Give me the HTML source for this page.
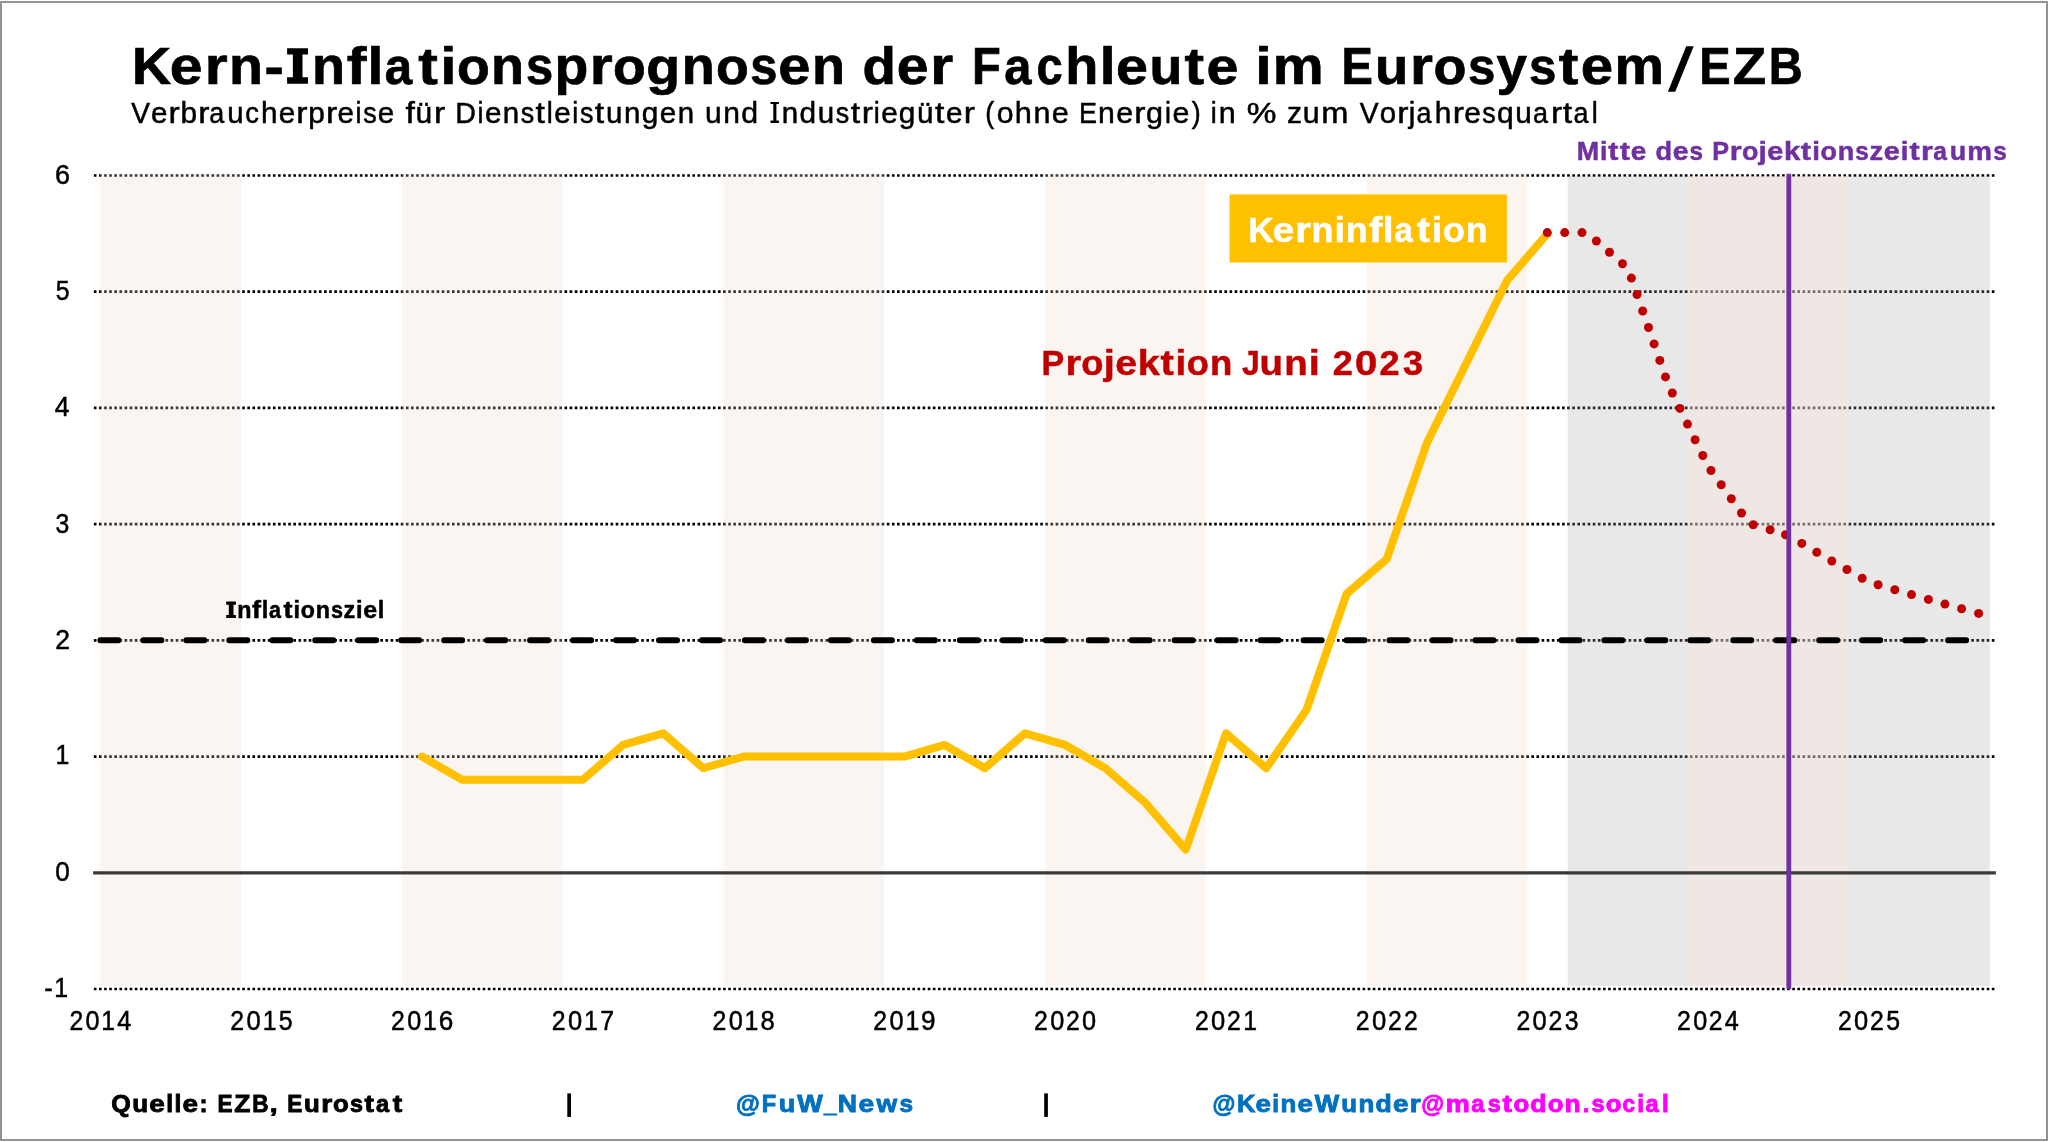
<!DOCTYPE html>
<html><head><meta charset="utf-8"><title>Kern-Inflationsprognosen</title>
<style>
html,body{margin:0;padding:0;background:#fff;width:2048px;height:1142px;overflow:hidden;}
svg{display:block;will-change:transform;}
text{font-family:"Liberation Sans",sans-serif;}
</style></head><body>
<svg width="2048" height="1142" viewBox="0 0 2048 1142">
<rect x="0" y="0" width="2048" height="1142" fill="#fff"/>
<line x1="93.85" y1="175.48" x2="1994.5" y2="175.48" stroke="#000" stroke-width="2.7" stroke-dasharray="2.65 2.4657"/>
<line x1="93.85" y1="291.70" x2="1994.5" y2="291.70" stroke="#000" stroke-width="2.7" stroke-dasharray="2.65 2.4657"/>
<line x1="93.85" y1="407.92" x2="1994.5" y2="407.92" stroke="#000" stroke-width="2.7" stroke-dasharray="2.65 2.4657"/>
<line x1="93.85" y1="524.14" x2="1994.5" y2="524.14" stroke="#000" stroke-width="2.7" stroke-dasharray="2.65 2.4657"/>
<line x1="93.85" y1="640.36" x2="1994.5" y2="640.36" stroke="#000" stroke-width="2.7" stroke-dasharray="2.65 2.4657"/>
<line x1="93.85" y1="756.58" x2="1994.5" y2="756.58" stroke="#000" stroke-width="2.7" stroke-dasharray="2.65 2.4657"/>
<line x1="93.85" y1="989.02" x2="1994.5" y2="989.02" stroke="#000" stroke-width="2.7" stroke-dasharray="2.65 2.4657"/>
<rect x="1567.70" y="176.0" width="120.60" height="810.20" fill="rgb(165,165,165)" fill-opacity="0.255"/>
<rect x="1849.10" y="176.0" width="140.70" height="810.20" fill="rgb(165,165,165)" fill-opacity="0.255"/>
<rect x="1688.30" y="176.0" width="160.80" height="810.20" fill="rgb(225,209,204)" fill-opacity="0.525"/>
<rect x="100.40" y="173.5" width="140.70" height="812.80" fill="rgb(235,216,200)" fill-opacity="0.255"/>
<rect x="401.90" y="173.5" width="160.80" height="812.80" fill="rgb(235,216,200)" fill-opacity="0.255"/>
<rect x="723.50" y="173.5" width="160.80" height="812.80" fill="rgb(235,216,200)" fill-opacity="0.255"/>
<rect x="1045.10" y="173.5" width="160.80" height="812.80" fill="rgb(235,216,200)" fill-opacity="0.255"/>
<rect x="1366.70" y="173.5" width="160.80" height="812.80" fill="rgb(235,216,200)" fill-opacity="0.255"/>
<line x1="93.1" y1="872.80" x2="1995.9" y2="872.80" stroke="#3a3a3a" stroke-width="3.3"/>
<line x1="100.40" y1="640.36" x2="1989.80" y2="640.36" stroke="#000" stroke-width="6" stroke-linecap="round" stroke-dasharray="18 24.97"/>
<polyline points="422.00,756.58 462.20,779.82 502.40,779.82 542.60,779.82 582.80,779.82 623.00,744.96 663.20,733.34 703.40,768.20 743.60,756.58 783.80,756.58 824.00,756.58 864.20,756.58 904.40,756.58 944.60,744.96 984.80,768.20 1025.00,733.34 1065.20,744.96 1105.40,768.20 1145.60,803.07 1185.80,849.56 1226.00,733.34 1266.20,768.20 1306.40,710.09 1346.60,593.87 1386.80,559.01 1427.00,442.79 1467.20,361.43 1507.40,280.08 1547.60,233.59" fill="none" stroke="#FFC000" stroke-width="8" stroke-linejoin="round" stroke-linecap="round"/>
<g fill="#C00000"><circle cx="1547.3" cy="232.6" r="4.5"/><circle cx="1564.7" cy="232.6" r="4.5"/><circle cx="1582.0" cy="232.6" r="4.5"/><circle cx="1596.4" cy="241.0" r="4.5"/><circle cx="1609.5" cy="252.3" r="4.5"/><circle cx="1622.5" cy="263.8" r="4.5"/><circle cx="1631.4" cy="278.1" r="4.5"/><circle cx="1637.0" cy="294.6" r="4.5"/><circle cx="1642.7" cy="311.0" r="4.5"/><circle cx="1648.5" cy="327.5" r="4.5"/><circle cx="1654.1" cy="343.9" r="4.5"/><circle cx="1659.8" cy="360.4" r="4.5"/><circle cx="1665.5" cy="376.9" r="4.5"/><circle cx="1672.3" cy="393.0" r="4.5"/><circle cx="1679.9" cy="408.4" r="4.5"/><circle cx="1687.5" cy="424.1" r="4.5"/><circle cx="1695.1" cy="439.7" r="4.5"/><circle cx="1702.8" cy="455.5" r="4.5"/><circle cx="1711.0" cy="470.5" r="4.5"/><circle cx="1721.2" cy="484.7" r="4.5"/><circle cx="1731.3" cy="498.8" r="4.5"/><circle cx="1741.5" cy="513.0" r="4.5"/><circle cx="1753.2" cy="524.7" r="4.5"/><circle cx="1770.1" cy="529.8" r="4.5"/><circle cx="1785.5" cy="534.8" r="4.5"/><circle cx="1801.8" cy="543.4" r="4.5"/><circle cx="1816.8" cy="552.2" r="4.5"/><circle cx="1831.8" cy="561.0" r="4.5"/><circle cx="1847.0" cy="569.5" r="4.5"/><circle cx="1862.2" cy="578.2" r="4.5"/><circle cx="1878.1" cy="584.8" r="4.5"/><circle cx="1894.8" cy="589.7" r="4.5"/><circle cx="1911.5" cy="594.6" r="4.5"/><circle cx="1928.4" cy="599.4" r="4.5"/><circle cx="1944.9" cy="604.1" r="4.5"/><circle cx="1961.6" cy="608.8" r="4.5"/><circle cx="1978.6" cy="613.4" r="4.5"/></g>
<line x1="1788.80" y1="173.8" x2="1788.80" y2="989.02" stroke="#7030A0" stroke-width="4.8"/>
<rect x="1229.5" y="194.4" width="277.4" height="68.1" fill="#FFC000"/>
<rect x="567.3" y="1093.4" width="3.7" height="23.5" fill="#000"/>
<rect x="1044.2" y="1093.4" width="3.7" height="23.5" fill="#000"/>
<g font-size="51.2" font-weight="bold" fill="#000" stroke="#000" stroke-width="0.7"><text transform="matrix(1.0583 0 0 1 132.03 83.8)">K</text><text transform="matrix(1.1500 0 0 1 169.81 83.8)">e</text><text transform="matrix(1.1500 0 0 1 204.85 83.8)">r</text><text transform="matrix(1.0846 0 0 1 229.00 83.8)">n</text><text transform="matrix(1.1267 0 0 1 264.55 83.8)">-</text></g>
<g font-size="51.2" font-weight="bold" fill="#000" stroke="#000" stroke-width="0.7"><text transform="matrix(1.0548 0 0 1 312.09 83.8)">n</text><text transform="matrix(1.1500 0 0 1 346.79 83.8)">f</text><text transform="matrix(1.1124 0 0 1 367.54 83.8)">l</text><text transform="matrix(0.9614 0 0 1 384.77 83.8)">a</text><text transform="matrix(1.1500 0 0 1 418.24 83.8)">t</text><text transform="matrix(1.1124 0 0 1 440.39 83.8)">i</text><text transform="matrix(1.0477 0 0 1 456.97 83.8)">o</text><text transform="matrix(1.0548 0 0 1 490.96 83.8)">n</text><text transform="matrix(0.9548 0 0 1 525.91 83.8)">s</text><text transform="matrix(1.0809 0 0 1 554.54 83.8)">p</text><text transform="matrix(1.1500 0 0 1 589.65 83.8)">r</text><text transform="matrix(1.0477 0 0 1 612.98 83.8)">o</text><text transform="matrix(1.0830 0 0 1 646.36 83.8)">g</text><text transform="matrix(1.0548 0 0 1 681.85 83.8)">n</text><text transform="matrix(1.0477 0 0 1 715.99 83.8)">o</text><text transform="matrix(0.9548 0 0 1 750.26 83.8)">s</text><text transform="matrix(1.1279 0 0 1 778.28 83.8)">e</text><text transform="matrix(1.0548 0 0 1 812.01 83.8)">n</text></g>
<g font-size="51.2" font-weight="bold" fill="#000" stroke="#000" stroke-width="0.7"><text transform="matrix(1.0674 0 0 1 862.51 83.8)">d</text><text transform="matrix(1.1138 0 0 1 896.87 83.8)">e</text><text transform="matrix(1.1500 0 0 1 930.17 83.8)">r</text></g>
<g font-size="51.2" font-weight="bold" fill="#000" stroke="#000" stroke-width="0.7"><text transform="matrix(0.9200 0 0 1 971.88 83.8)">F</text><text transform="matrix(0.9555 0 0 1 1004.32 83.8)">a</text><text transform="matrix(0.9200 0 0 1 1036.44 83.8)">c</text><text transform="matrix(1.0568 0 0 1 1065.33 83.8)">h</text><text transform="matrix(1.1051 0 0 1 1099.63 83.8)">l</text><text transform="matrix(1.1209 0 0 1 1115.95 83.8)">e</text><text transform="matrix(1.0483 0 0 1 1149.40 83.8)">u</text><text transform="matrix(1.1500 0 0 1 1184.59 83.8)">t</text><text transform="matrix(1.1209 0 0 1 1206.39 83.8)">e</text></g>
<g font-size="51.2" font-weight="bold" fill="#000" stroke="#000" stroke-width="0.7"><text transform="matrix(1.1500 0 0 1 1255.25 83.8)">i</text><text transform="matrix(1.1185 0 0 1 1272.78 83.8)">m</text></g>
<g font-size="51.2" font-weight="bold" fill="#000" stroke="#000" stroke-width="0.7"><text transform="matrix(0.9200 0 0 1 1341.43 83.8)">E</text><text transform="matrix(1.0616 0 0 1 1374.89 83.8)">u</text><text transform="matrix(1.1500 0 0 1 1410.10 83.8)">r</text><text transform="matrix(1.0545 0 0 1 1433.50 83.8)">o</text><text transform="matrix(0.9610 0 0 1 1467.98 83.8)">s</text><text transform="matrix(1.0708 0 0 1 1496.52 83.8)">y</text><text transform="matrix(0.9610 0 0 1 1529.11 83.8)">s</text><text transform="matrix(1.1500 0 0 1 1558.80 83.8)">t</text><text transform="matrix(1.1352 0 0 1 1580.74 83.8)">e</text><text transform="matrix(1.0886 0 0 1 1614.55 83.8)">m</text></g>
<g font-size="51.2" font-weight="bold" fill="#000" stroke="#000" stroke-width="0.7"><text transform="matrix(0.9200 0 0 1 1699.34 83.8)">E</text><text transform="matrix(1.0682 0 0 1 1732.77 83.8)">Z</text><text transform="matrix(0.9200 0 0 1 1768.69 83.8)">B</text></g>
<g font-size="29.3" font-weight="normal" fill="#000" stroke="#000" stroke-width="0.5"><text transform="matrix(0.9574 0 0 1 131.28 122.75)">V</text><text transform="matrix(1.0102 0 0 1 150.91 122.75)">e</text><text transform="matrix(1.1500 0 0 1 168.49 122.75)">r</text><text transform="matrix(1.0162 0 0 1 180.40 122.75)">b</text><text transform="matrix(1.1500 0 0 1 198.18 122.75)">r</text><text transform="matrix(0.9200 0 0 1 209.37 122.75)">a</text><text transform="matrix(1.0045 0 0 1 227.33 122.75)">u</text><text transform="matrix(0.9326 0 0 1 245.22 122.75)">c</text><text transform="matrix(1.0115 0 0 1 260.95 122.75)">h</text><text transform="matrix(1.0102 0 0 1 278.73 122.75)">e</text><text transform="matrix(1.1500 0 0 1 296.31 122.75)">r</text><text transform="matrix(1.0162 0 0 1 308.22 122.75)">p</text><text transform="matrix(1.1500 0 0 1 326.00 122.75)">r</text><text transform="matrix(1.0102 0 0 1 337.56 122.75)">e</text><text transform="matrix(0.9200 0 0 1 355.43 122.75)">i</text><text transform="matrix(0.9200 0 0 1 363.20 122.75)">s</text><text transform="matrix(1.0102 0 0 1 377.70 122.75)">e</text></g>
<g font-size="29.3" font-weight="normal" fill="#000" stroke="#000" stroke-width="0.5"><text transform="matrix(1.1500 0 0 1 405.47 122.75)">f</text><text transform="matrix(1.0203 0 0 1 415.55 122.75)">ü</text><text transform="matrix(1.1500 0 0 1 433.93 122.75)">r</text></g>
<g font-size="29.3" font-weight="normal" fill="#000" stroke="#000" stroke-width="0.5"><text transform="matrix(0.9755 0 0 1 455.31 122.75)">D</text><text transform="matrix(0.9200 0 0 1 477.48 122.75)">i</text><text transform="matrix(1.0122 0 0 1 484.97 122.75)">e</text><text transform="matrix(1.0064 0 0 1 502.79 122.75)">n</text><text transform="matrix(0.9200 0 0 1 520.80 122.75)">s</text><text transform="matrix(1.1500 0 0 1 535.56 122.75)">t</text><text transform="matrix(0.9200 0 0 1 546.87 122.75)">l</text><text transform="matrix(1.0122 0 0 1 554.37 122.75)">e</text><text transform="matrix(0.9200 0 0 1 572.28 122.75)">i</text><text transform="matrix(0.9200 0 0 1 580.07 122.75)">s</text><text transform="matrix(1.1500 0 0 1 594.84 122.75)">t</text><text transform="matrix(1.0064 0 0 1 605.93 122.75)">u</text><text transform="matrix(1.0064 0 0 1 624.08 122.75)">n</text><text transform="matrix(1.0171 0 0 1 641.80 122.75)">g</text><text transform="matrix(1.0122 0 0 1 659.85 122.75)">e</text><text transform="matrix(1.0064 0 0 1 677.66 122.75)">n</text></g>
<g font-size="29.3" font-weight="normal" fill="#000" stroke="#000" stroke-width="0.5"><text transform="matrix(1.0233 0 0 1 704.90 122.75)">u</text><text transform="matrix(1.0233 0 0 1 723.35 122.75)">n</text><text transform="matrix(1.0341 0 0 1 741.35 122.75)">d</text></g>
<g font-size="29.3" font-weight="normal" fill="#000" stroke="#000" stroke-width="0.5"><text transform="matrix(1.0080 0 0 1 781.69 122.75)">n</text><text transform="matrix(1.0187 0 0 1 799.43 122.75)">d</text><text transform="matrix(1.0080 0 0 1 817.70 122.75)">u</text><text transform="matrix(0.9200 0 0 1 835.87 122.75)">s</text><text transform="matrix(1.1500 0 0 1 850.66 122.75)">t</text><text transform="matrix(1.1500 0 0 1 861.71 122.75)">r</text><text transform="matrix(0.9200 0 0 1 873.70 122.75)">i</text><text transform="matrix(1.0137 0 0 1 881.20 122.75)">e</text><text transform="matrix(1.0187 0 0 1 898.73 122.75)">g</text><text transform="matrix(1.0080 0 0 1 916.91 122.75)">ü</text><text transform="matrix(1.1500 0 0 1 935.11 122.75)">t</text><text transform="matrix(1.0137 0 0 1 946.02 122.75)">e</text><text transform="matrix(1.1500 0 0 1 963.69 122.75)">r</text></g>
<g font-size="29.3" font-weight="normal" fill="#000" stroke="#000" stroke-width="0.5"><text transform="matrix(0.9200 0 0 1 985.14 122.75)">(</text><text transform="matrix(1.0290 0 0 1 996.63 122.75)">o</text><text transform="matrix(1.0473 0 0 1 1014.78 122.75)">h</text><text transform="matrix(1.0401 0 0 1 1033.49 122.75)">n</text><text transform="matrix(1.0458 0 0 1 1051.77 122.75)">e</text></g>
<g font-size="29.3" font-weight="normal" fill="#000" stroke="#000" stroke-width="0.5"><text transform="matrix(0.9200 0 0 1 1078.92 122.75)">E</text><text transform="matrix(1.0311 0 0 1 1098.02 122.75)">n</text><text transform="matrix(1.0368 0 0 1 1116.15 122.75)">e</text><text transform="matrix(1.1500 0 0 1 1134.35 122.75)">r</text><text transform="matrix(1.0419 0 0 1 1146.04 122.75)">g</text><text transform="matrix(0.9200 0 0 1 1165.01 122.75)">i</text><text transform="matrix(1.0368 0 0 1 1172.60 122.75)">e</text><text transform="matrix(0.9200 0 0 1 1191.81 122.75)">)</text></g>
<g font-size="29.3" font-weight="normal" fill="#000" stroke="#000" stroke-width="0.5"><text transform="matrix(0.9200 0 0 1 1210.83 122.75)">i</text><text transform="matrix(1.0400 0 0 1 1218.78 122.75)">n</text></g>
<g font-size="29.3" font-weight="normal" fill="#000" stroke="#000" stroke-width="0.5"><text transform="matrix(1.1392 0 0 1 1246.66 122.75)">%</text></g>
<g font-size="29.3" font-weight="normal" fill="#000" stroke="#000" stroke-width="0.5"><text transform="matrix(1.0272 0 0 1 1286.93 122.75)">z</text><text transform="matrix(1.0354 0 0 1 1302.75 122.75)">u</text><text transform="matrix(1.1122 0 0 1 1321.25 122.75)">m</text></g>
<g font-size="29.3" font-weight="normal" fill="#000" stroke="#000" stroke-width="0.5"><text transform="matrix(0.9658 0 0 1 1359.83 122.75)">V</text><text transform="matrix(1.0028 0 0 1 1379.66 122.75)">o</text><text transform="matrix(1.1500 0 0 1 1397.32 122.75)">r</text><text transform="matrix(1.0072 0 0 1 1408.81 122.75)">j</text><text transform="matrix(0.9200 0 0 1 1416.58 122.75)">a</text><text transform="matrix(1.0205 0 0 1 1434.63 122.75)">h</text><text transform="matrix(1.1500 0 0 1 1452.74 122.75)">r</text><text transform="matrix(1.0192 0 0 1 1464.34 122.75)">e</text><text transform="matrix(0.9200 0 0 1 1482.30 122.75)">s</text><text transform="matrix(1.0231 0 0 1 1496.88 122.75)">q</text><text transform="matrix(1.0135 0 0 1 1515.24 122.75)">u</text><text transform="matrix(0.9200 0 0 1 1532.90 122.75)">a</text><text transform="matrix(1.1500 0 0 1 1550.92 122.75)">r</text><text transform="matrix(1.1500 0 0 1 1562.80 122.75)">t</text><text transform="matrix(0.9200 0 0 1 1573.45 122.75)">a</text><text transform="matrix(0.9200 0 0 1 1591.71 122.75)">l</text></g>
<g font-size="26.5" font-weight="bold" fill="#7030A0" stroke="#7030A0" stroke-width="0.5"><text transform="matrix(1.0147 0 0 1 1576.65 159.9)">M</text><text transform="matrix(1.0067 0 0 1 1600.08 159.9)">i</text><text transform="matrix(1.1500 0 0 1 1608.35 159.9)">t</text><text transform="matrix(1.1500 0 0 1 1619.73 159.9)">t</text><text transform="matrix(1.0524 0 0 1 1630.79 159.9)">e</text></g>
<g font-size="26.5" font-weight="bold" fill="#7030A0" stroke="#7030A0" stroke-width="0.5"><text transform="matrix(1.0260 0 0 1 1655.53 159.9)">d</text><text transform="matrix(1.0706 0 0 1 1672.81 159.9)">e</text><text transform="matrix(0.9200 0 0 1 1689.59 159.9)">s</text></g>
<g font-size="26.5" font-weight="bold" fill="#7030A0" stroke="#7030A0" stroke-width="0.5"><text transform="matrix(0.9518 0 0 1 1712.26 159.9)">P</text><text transform="matrix(1.1500 0 0 1 1729.85 159.9)">r</text><text transform="matrix(1.0128 0 0 1 1741.88 159.9)">o</text><text transform="matrix(1.1311 0 0 1 1758.44 159.9)">j</text><text transform="matrix(1.0900 0 0 1 1767.16 159.9)">e</text><text transform="matrix(1.1053 0 0 1 1783.95 159.9)">k</text><text transform="matrix(1.1500 0 0 1 1800.74 159.9)">t</text><text transform="matrix(1.0461 0 0 1 1812.20 159.9)">i</text><text transform="matrix(1.0128 0 0 1 1820.51 159.9)">o</text><text transform="matrix(1.0186 0 0 1 1837.70 159.9)">n</text><text transform="matrix(0.9209 0 0 1 1855.36 159.9)">s</text><text transform="matrix(1.0279 0 0 1 1869.61 159.9)">z</text><text transform="matrix(1.0900 0 0 1 1883.85 159.9)">e</text><text transform="matrix(1.0461 0 0 1 1900.75 159.9)">i</text><text transform="matrix(1.1500 0 0 1 1909.50 159.9)">t</text><text transform="matrix(1.1500 0 0 1 1920.94 159.9)">r</text><text transform="matrix(0.9285 0 0 1 1933.31 159.9)">a</text><text transform="matrix(1.0186 0 0 1 1949.83 159.9)">u</text><text transform="matrix(1.0490 0 0 1 1967.32 159.9)">m</text><text transform="matrix(0.9209 0 0 1 1993.18 159.9)">s</text></g>
<g font-size="35.0" font-weight="bold" fill="#fff" stroke="#fff" stroke-width="0.5"><text transform="matrix(1.0077 0 0 1 1248.19 241.7)">K</text><text transform="matrix(1.1038 0 0 1 1272.74 241.7)">e</text><text transform="matrix(1.1500 0 0 1 1295.25 241.7)">r</text><text transform="matrix(1.0321 0 0 1 1311.44 241.7)">n</text><text transform="matrix(1.0840 0 0 1 1334.41 241.7)">i</text><text transform="matrix(1.0321 0 0 1 1345.86 241.7)">n</text><text transform="matrix(1.1500 0 0 1 1368.96 241.7)">f</text><text transform="matrix(1.0840 0 0 1 1383.03 241.7)">l</text><text transform="matrix(0.9408 0 0 1 1394.56 241.7)">a</text><text transform="matrix(1.1500 0 0 1 1416.84 241.7)">t</text><text transform="matrix(1.0840 0 0 1 1431.85 241.7)">i</text><text transform="matrix(1.0254 0 0 1 1442.94 241.7)">o</text><text transform="matrix(1.0321 0 0 1 1465.72 241.7)">n</text></g>
<g font-size="34.8" font-weight="bold" fill="#C00000" stroke="#C00000" stroke-width="0.5"><text transform="matrix(0.9812 0 0 1 1041.57 375.1)">P</text><text transform="matrix(1.1500 0 0 1 1065.46 375.1)">r</text><text transform="matrix(1.0441 0 0 1 1081.32 375.1)">o</text><text transform="matrix(1.1500 0 0 1 1103.65 375.1)">j</text><text transform="matrix(1.1239 0 0 1 1115.23 375.1)">e</text><text transform="matrix(1.1394 0 0 1 1137.74 375.1)">k</text><text transform="matrix(1.1500 0 0 1 1160.53 375.1)">t</text><text transform="matrix(1.1046 0 0 1 1175.59 375.1)">i</text><text transform="matrix(1.0441 0 0 1 1186.82 375.1)">o</text><text transform="matrix(1.0510 0 0 1 1209.88 375.1)">n</text></g>
<g font-size="34.8" font-weight="bold" fill="#C00000" stroke="#C00000" stroke-width="0.5"><text transform="matrix(0.9200 0 0 1 1241.96 375.1)">J</text><text transform="matrix(1.1017 0 0 1 1259.58 375.1)">u</text><text transform="matrix(1.1017 0 0 1 1284.26 375.1)">n</text><text transform="matrix(1.1500 0 0 1 1308.64 375.1)">i</text></g>
<g font-size="34.8" font-weight="bold" fill="#C00000" stroke="#C00000" stroke-width="0.5"><text transform="matrix(1.0340 0 0 1 1332.70 375.1)">2</text><text transform="matrix(1.1500 0 0 1 1355.05 375.1)">0</text><text transform="matrix(1.0340 0 0 1 1379.52 375.1)">2</text><text transform="matrix(1.0395 0 0 1 1402.94 375.1)">3</text></g>
<g font-size="23.5" font-weight="bold" fill="#000" stroke="#000" stroke-width="0.5"><text transform="matrix(0.9920 0 0 1 237.21 617.8)">n</text><text transform="matrix(1.1491 0 0 1 252.12 617.8)">f</text><text transform="matrix(1.0042 0 0 1 261.63 617.8)">l</text><text transform="matrix(0.9200 0 0 1 269.00 617.8)">a</text><text transform="matrix(1.1500 0 0 1 283.50 617.8)">t</text><text transform="matrix(1.0042 0 0 1 293.61 617.8)">i</text><text transform="matrix(0.9868 0 0 1 300.81 617.8)">o</text><text transform="matrix(0.9920 0 0 1 315.74 617.8)">n</text><text transform="matrix(0.9200 0 0 1 330.92 617.8)">s</text><text transform="matrix(1.0002 0 0 1 343.46 617.8)">z</text><text transform="matrix(1.0042 0 0 1 356.03 617.8)">i</text><text transform="matrix(1.0619 0 0 1 363.16 617.8)">e</text><text transform="matrix(1.0042 0 0 1 377.86 617.8)">l</text></g>
<g font-size="24.5" font-weight="bold" fill="#000" stroke="#000" stroke-width="0.9"><text transform="matrix(1.0250 0 0 1 111.22 1112)">Q</text><text transform="matrix(1.0608 0 0 1 132.13 1112)">u</text><text transform="matrix(1.1375 0 0 1 149.21 1112)">e</text><text transform="matrix(1.0044 0 0 1 166.17 1112)">l</text><text transform="matrix(1.0044 0 0 1 174.56 1112)">l</text><text transform="matrix(1.1375 0 0 1 182.57 1112)">e</text><text transform="matrix(0.9904 0 0 1 199.60 1112)">:</text></g>
<g font-size="24.5" font-weight="bold" fill="#000" stroke="#000" stroke-width="0.9"><text transform="matrix(0.9200 0 0 1 217.58 1112)">E</text><text transform="matrix(1.0772 0 0 1 234.26 1112)">Z</text><text transform="matrix(0.9200 0 0 1 252.33 1112)">B</text><text transform="matrix(1.1500 0 0 1 269.84 1112)">,</text></g>
<g font-size="24.5" font-weight="bold" fill="#000" stroke="#000" stroke-width="0.9"><text transform="matrix(0.9200 0 0 1 287.26 1112)">E</text><text transform="matrix(1.0533 0 0 1 303.92 1112)">u</text><text transform="matrix(1.1500 0 0 1 321.25 1112)">r</text><text transform="matrix(1.0503 0 0 1 332.95 1112)">o</text><text transform="matrix(0.9488 0 0 1 350.05 1112)">s</text><text transform="matrix(1.1500 0 0 1 364.62 1112)">t</text><text transform="matrix(0.9603 0 0 1 376.04 1112)">a</text><text transform="matrix(1.1500 0 0 1 392.64 1112)">t</text></g>
<g font-size="24.5" font-weight="bold" fill="#0070C0" stroke="#0070C0" stroke-width="0.9"><text transform="matrix(0.9967 0 0 1 735.95 1112)">@</text><text transform="matrix(0.9629 0 0 1 761.79 1112)">F</text><text transform="matrix(1.1027 0 0 1 778.68 1112)">u</text><text transform="matrix(1.1063 0 0 1 797.16 1112)">W</text><text transform="matrix(0.9200 0 0 1 824.04 1112)">_</text><text transform="matrix(1.0881 0 0 1 837.63 1112)">N</text><text transform="matrix(1.1500 0 0 1 858.50 1112)">e</text><text transform="matrix(1.0827 0 0 1 876.49 1112)">w</text><text transform="matrix(0.9935 0 0 1 899.41 1112)">s</text></g>
<g font-size="24.5" font-weight="bold" fill="#0070C0" stroke="#0070C0" stroke-width="0.9"><text transform="matrix(0.9545 0 0 1 1212.51 1112)">@</text><text transform="matrix(1.0400 0 0 1 1237.11 1112)">K</text><text transform="matrix(1.1311 0 0 1 1255.40 1112)">e</text><text transform="matrix(0.9977 0 0 1 1272.28 1112)">i</text><text transform="matrix(1.0547 0 0 1 1280.62 1112)">n</text><text transform="matrix(1.1311 0 0 1 1297.57 1112)">e</text><text transform="matrix(1.0598 0 0 1 1314.81 1112)">W</text><text transform="matrix(1.0547 0 0 1 1341.25 1112)">u</text><text transform="matrix(1.0547 0 0 1 1358.61 1112)">n</text><text transform="matrix(1.0839 0 0 1 1375.60 1112)">d</text><text transform="matrix(1.1311 0 0 1 1392.98 1112)">e</text><text transform="matrix(1.1500 0 0 1 1409.86 1112)">r</text></g>
<g font-size="24.5" font-weight="bold" fill="#FF00FF" stroke="#FF00FF" stroke-width="0.9"><text transform="matrix(0.9568 0 0 1 1421.31 1112)">@</text><text transform="matrix(1.1025 0 0 1 1445.68 1112)">m</text><text transform="matrix(0.9640 0 0 1 1471.20 1112)">a</text><text transform="matrix(0.9524 0 0 1 1487.75 1112)">s</text><text transform="matrix(1.1500 0 0 1 1502.39 1112)">t</text><text transform="matrix(1.0543 0 0 1 1513.52 1112)">o</text><text transform="matrix(1.0866 0 0 1 1530.24 1112)">d</text><text transform="matrix(1.0543 0 0 1 1547.74 1112)">o</text><text transform="matrix(1.0574 0 0 1 1564.80 1112)">n</text><text transform="matrix(0.9798 0 0 1 1582.68 1112)">.</text><text transform="matrix(0.9524 0 0 1 1591.53 1112)">s</text><text transform="matrix(1.0543 0 0 1 1605.64 1112)">o</text><text transform="matrix(0.9200 0 0 1 1622.47 1112)">c</text><text transform="matrix(1.0006 0 0 1 1637.16 1112)">i</text><text transform="matrix(0.9640 0 0 1 1645.54 1112)">a</text><text transform="matrix(1.0006 0 0 1 1661.97 1112)">l</text></g>
<g font-size="27" font-weight="normal" fill="#000" stroke="#000" stroke-width="0.5"><text transform="matrix(1.0009 0 0 1 54.98 183.7)">6</text></g>
<g font-size="27" font-weight="normal" fill="#000" stroke="#000" stroke-width="0.5"><text transform="matrix(0.9200 0 0 1 55.87 299.8)">5</text></g>
<g font-size="27" font-weight="normal" fill="#000" stroke="#000" stroke-width="0.5"><text transform="matrix(0.9849 0 0 1 54.84 415.5)">4</text></g>
<g font-size="27" font-weight="normal" fill="#000" stroke="#000" stroke-width="0.5"><text transform="matrix(0.9200 0 0 1 55.57 532.6)">3</text></g>
<g font-size="27" font-weight="normal" fill="#000" stroke="#000" stroke-width="0.5"><text transform="matrix(0.9837 0 0 1 55.21 648.9)">2</text></g>
<g font-size="27" font-weight="normal" fill="#000" stroke="#000" stroke-width="0.5"><text transform="matrix(0.9200 0 0 1 55.60 764.4)">1</text></g>
<g font-size="27" font-weight="normal" fill="#000" stroke="#000" stroke-width="0.5"><text transform="matrix(0.9685 0 0 1 55.13 881.4)">0</text></g>
<g font-size="27" font-weight="normal" fill="#000" stroke="#000" stroke-width="0.5"><text transform="matrix(0.9457 0 0 1 44.22 996.8)">-</text><text transform="matrix(0.9200 0 0 1 54.20 996.8)">1</text></g>
<g font-size="27" font-weight="normal" fill="#000" stroke="#000" stroke-width="0.5"><text transform="matrix(0.9200 0 0 1 69.50 1029.8)">2</text><text transform="matrix(0.9327 0 0 1 85.56 1029.8)">0</text><text transform="matrix(0.9200 0 0 1 101.37 1029.8)">1</text><text transform="matrix(0.9348 0 0 1 117.20 1029.8)">4</text></g>
<g font-size="27" font-weight="normal" fill="#000" stroke="#000" stroke-width="0.5"><text transform="matrix(0.9200 0 0 1 230.34 1029.8)">2</text><text transform="matrix(0.9454 0 0 1 246.52 1029.8)">0</text><text transform="matrix(0.9200 0 0 1 262.63 1029.8)">1</text><text transform="matrix(0.9200 0 0 1 278.68 1029.8)">5</text></g>
<g font-size="27" font-weight="normal" fill="#000" stroke="#000" stroke-width="0.5"><text transform="matrix(0.9200 0 0 1 391.04 1029.8)">2</text><text transform="matrix(0.9354 0 0 1 407.13 1029.8)">0</text><text transform="matrix(0.9200 0 0 1 423.00 1029.8)">1</text><text transform="matrix(0.9681 0 0 1 438.63 1029.8)">6</text></g>
<g font-size="27" font-weight="normal" fill="#000" stroke="#000" stroke-width="0.5"><text transform="matrix(0.9200 0 0 1 551.85 1029.8)">2</text><text transform="matrix(0.9446 0 0 1 568.02 1029.8)">0</text><text transform="matrix(0.9200 0 0 1 584.12 1029.8)">1</text><text transform="matrix(0.9211 0 0 1 600.20 1029.8)">7</text></g>
<g font-size="27" font-weight="normal" fill="#000" stroke="#000" stroke-width="0.5"><text transform="matrix(0.9200 0 0 1 712.57 1029.8)">2</text><text transform="matrix(0.9376 0 0 1 728.68 1029.8)">0</text><text transform="matrix(0.9200 0 0 1 744.61 1029.8)">1</text><text transform="matrix(0.9474 0 0 1 760.42 1029.8)">8</text></g>
<g font-size="27" font-weight="normal" fill="#000" stroke="#000" stroke-width="0.5"><text transform="matrix(0.9200 0 0 1 873.34 1029.8)">2</text><text transform="matrix(0.9384 0 0 1 889.45 1029.8)">0</text><text transform="matrix(0.9200 0 0 1 905.40 1029.8)">1</text><text transform="matrix(0.9692 0 0 1 920.99 1029.8)">9</text></g>
<g font-size="27" font-weight="normal" fill="#000" stroke="#000" stroke-width="0.5"><text transform="matrix(0.9200 0 0 1 1034.09 1029.8)">2</text><text transform="matrix(0.9368 0 0 1 1050.19 1029.8)">0</text><text transform="matrix(0.9200 0 0 1 1065.88 1029.8)">2</text><text transform="matrix(0.9368 0 0 1 1081.98 1029.8)">0</text></g>
<g font-size="27" font-weight="normal" fill="#000" stroke="#000" stroke-width="0.5"><text transform="matrix(0.9200 0 0 1 1194.91 1029.8)">2</text><text transform="matrix(0.9474 0 0 1 1211.11 1029.8)">0</text><text transform="matrix(0.9200 0 0 1 1227.05 1029.8)">2</text><text transform="matrix(0.9200 0 0 1 1243.34 1029.8)">1</text></g>
<g font-size="27" font-weight="normal" fill="#000" stroke="#000" stroke-width="0.5"><text transform="matrix(0.9200 0 0 1 1355.69 1029.8)">2</text><text transform="matrix(0.9507 0 0 1 1371.91 1029.8)">0</text><text transform="matrix(0.9200 0 0 1 1387.93 1029.8)">2</text><text transform="matrix(0.9200 0 0 1 1404.06 1029.8)">2</text></g>
<g font-size="27" font-weight="normal" fill="#000" stroke="#000" stroke-width="0.5"><text transform="matrix(0.9200 0 0 1 1516.40 1029.8)">2</text><text transform="matrix(0.9424 0 0 1 1532.55 1029.8)">0</text><text transform="matrix(0.9200 0 0 1 1548.38 1029.8)">2</text><text transform="matrix(0.9200 0 0 1 1564.72 1029.8)">3</text></g>
<g font-size="27" font-weight="normal" fill="#000" stroke="#000" stroke-width="0.5"><text transform="matrix(0.9200 0 0 1 1677.10 1029.8)">2</text><text transform="matrix(0.9327 0 0 1 1693.16 1029.8)">0</text><text transform="matrix(0.9200 0 0 1 1708.76 1029.8)">2</text><text transform="matrix(0.9348 0 0 1 1724.80 1029.8)">4</text></g>
<g font-size="27" font-weight="normal" fill="#000" stroke="#000" stroke-width="0.5"><text transform="matrix(0.9200 0 0 1 1837.94 1029.8)">2</text><text transform="matrix(0.9454 0 0 1 1854.12 1029.8)">0</text><text transform="matrix(0.9200 0 0 1 1870.01 1029.8)">2</text><text transform="matrix(0.9200 0 0 1 1886.28 1029.8)">5</text></g>
<polygon points="1686.2,46.3 1693.7,46.3 1675.2,91.8 1667.9,91.8" fill="#000"/>
<polygon points="287.1,48.2 308.0,48.2 308.0,54.45 302.5,54.45 302.5,77.3 308.0,77.3 308.0,83.8 287.1,83.8 287.1,77.3 292.9,77.3 292.9,54.45 287.1,54.45" fill="#000"/>
<polygon points="770.5,102.0 778.9,102.0 778.9,104.1 776.4,104.1 776.4,120.6 778.9,120.6 778.9,122.9 770.5,122.9 770.5,120.6 773.3,120.6 773.3,104.1 770.5,104.1" fill="#000"/>
<polygon points="226.2,601.4 235.9,601.4 235.9,604.85 233.5,604.85 233.5,615.1 235.9,615.1 235.9,618.0 226.2,618.0 226.2,615.1 228.8,615.1 228.8,604.85 226.2,604.85" fill="#000"/>
<rect x="1" y="2" width="2046" height="1138" fill="none" stroke="#949494" stroke-width="2"/>
</svg>
</body></html>
